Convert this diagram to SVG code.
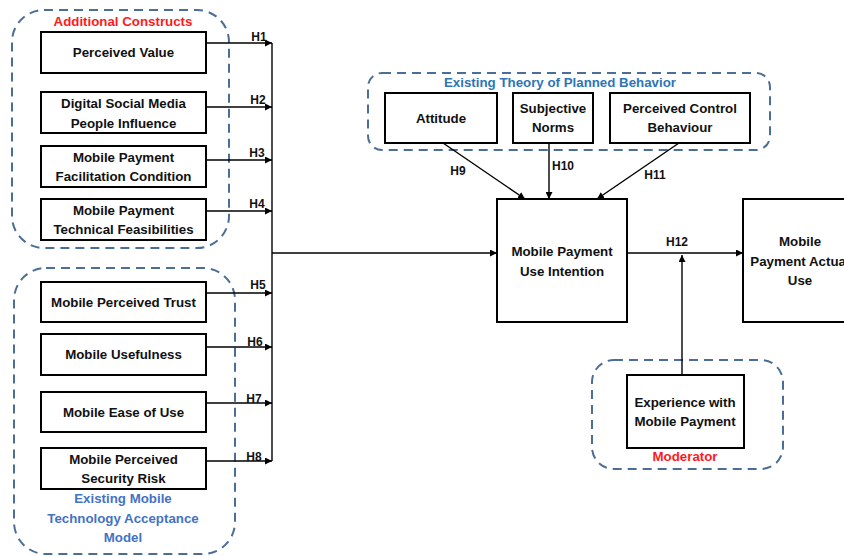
<svg xmlns="http://www.w3.org/2000/svg" width="844" height="556" viewBox="0 0 844 556">
<defs>
<marker id="ah" viewBox="0 0 10 10" refX="10" refY="5" markerWidth="7" markerHeight="7" markerUnits="userSpaceOnUse" orient="auto">
<path d="M0,0 L10,5 L0,10 z" fill="#000"/>
</marker>
</defs>
<style>
.box{fill:#fff;stroke:#000;stroke-width:2}
.grp{fill:none;stroke:#4A6E96;stroke-width:2;stroke-dasharray:9 6}
.t{font-family:"Liberation Sans",Arial,sans-serif;font-weight:bold;font-size:13.3px;fill:#111;text-anchor:middle}
.h{font-family:"Liberation Sans",Arial,sans-serif;font-weight:bold;font-size:12px;fill:#111;text-anchor:middle}
.red{font-family:"Liberation Sans",Arial,sans-serif;font-weight:bold;font-size:13.3px;fill:#FF1A1A;text-anchor:middle}
.blue{font-family:"Liberation Sans",Arial,sans-serif;font-weight:bold;font-size:13.3px;fill:#4472C4;text-anchor:middle}
.blue2{font-family:"Liberation Sans",Arial,sans-serif;font-weight:bold;font-size:13.3px;fill:#2E75B6;text-anchor:middle}
.c{fill:none;stroke:#000;stroke-width:1.4}
</style>
<rect width="844" height="556" fill="#fff"/>

<g id="group-additional">
<rect class="grp" x="12" y="10" width="217" height="238" rx="32"/>
<text class="red" x="123" y="26">Additional Constructs</text>
</g>
<g id="group-tam">
<rect class="grp" x="14" y="268" width="221" height="286" rx="32"/>
<text class="blue" x="123" y="503">Existing Mobile</text>
<text class="blue" x="123" y="523">Technology Acceptance</text>
<text class="blue" x="123" y="542">Model</text>
</g>
<g id="group-tpb">
<rect class="grp" x="368" y="73" width="402" height="77" rx="14"/>
<text class="blue2" x="560" y="87">Existing Theory of Planned Behavior</text>
</g>
<g id="group-moderator">
<rect class="grp" x="592" y="360" width="191" height="109" rx="22"/>
<text class="red" x="685" y="461">Moderator</text>
</g>

<g id="connectors">
<line class="c" x1="272" y1="43" x2="272" y2="461"/>
<line class="c" x1="206" y1="43" x2="272" y2="43" marker-end="url(#ah)"/>
<line class="c" x1="206" y1="107" x2="272" y2="107" marker-end="url(#ah)"/>
<line class="c" x1="206" y1="160" x2="272" y2="160" marker-end="url(#ah)"/>
<line class="c" x1="206" y1="211" x2="272" y2="211" marker-end="url(#ah)"/>
<line class="c" x1="206" y1="293" x2="272" y2="293" marker-end="url(#ah)"/>
<line class="c" x1="206" y1="347" x2="272" y2="347" marker-end="url(#ah)"/>
<line class="c" x1="206" y1="403" x2="272" y2="403" marker-end="url(#ah)"/>
<line class="c" x1="206" y1="461" x2="272" y2="461" marker-end="url(#ah)"/>
<line class="c" x1="272" y1="253" x2="497" y2="253" marker-end="url(#ah)"/>
<line class="c" x1="443" y1="143" x2="525" y2="199" marker-end="url(#ah)"/>
<line class="c" x1="549" y1="143" x2="549" y2="199" marker-end="url(#ah)"/>
<line class="c" x1="679" y1="143" x2="597" y2="199" marker-end="url(#ah)"/>
<line class="c" x1="627" y1="253" x2="743" y2="253" marker-end="url(#ah)"/>
<line class="c" x1="682" y1="375" x2="682" y2="255" marker-end="url(#ah)"/>
<text class="h" x="259" y="41">H1</text>
<text class="h" x="258" y="104">H2</text>
<text class="h" x="257" y="157">H3</text>
<text class="h" x="257" y="208">H4</text>
<text class="h" x="258" y="289">H5</text>
<text class="h" x="255" y="346">H6</text>
<text class="h" x="254" y="403">H7</text>
<text class="h" x="254" y="461">H8</text>
<text class="h" x="458" y="175">H9</text>
<text class="h" x="563" y="170">H10</text>
<text class="h" x="655" y="179">H11</text>
<text class="h" x="677" y="246">H12</text>
</g>

<g id="n-perceived-value"><rect class="box" x="41" y="32" width="165" height="41"/><text class="t" x="123.5" y="57">Perceived Value</text></g>
<g id="n-digital-social"><rect class="box" x="41" y="92" width="165" height="41"/><text class="t" x="123.5" y="108">Digital Social Media</text><text class="t" x="123.5" y="128">People Influence</text></g>
<g id="n-facilitation"><rect class="box" x="41" y="146" width="165" height="41"/><text class="t" x="123.5" y="162">Mobile Payment</text><text class="t" x="123.5" y="181">Facilitation Condition</text></g>
<g id="n-technical"><rect class="box" x="41" y="199" width="165" height="41"/><text class="t" x="123.5" y="215">Mobile Payment</text><text class="t" x="123.5" y="234">Technical Feasibilities</text></g>
<g id="n-trust"><rect class="box" x="41" y="282" width="165" height="40"/><text class="t" x="123.5" y="307">Mobile Perceived Trust</text></g>
<g id="n-usefulness"><rect class="box" x="41" y="334" width="165" height="41"/><text class="t" x="123.5" y="359">Mobile Usefulness</text></g>
<g id="n-ease"><rect class="box" x="41" y="392" width="165" height="40"/><text class="t" x="123.5" y="417">Mobile Ease of Use</text></g>
<g id="n-risk"><rect class="box" x="41" y="448" width="165" height="41"/><text class="t" x="123.5" y="464">Mobile Perceived</text><text class="t" x="123.5" y="483">Security Risk</text></g>

<g id="n-attitude"><rect class="box" x="385" y="93" width="112" height="50"/><text class="t" x="441" y="123">Attitude</text></g>
<g id="n-subjective"><rect class="box" x="513" y="93" width="80" height="50"/><text class="t" x="553" y="113">Subjective</text><text class="t" x="553" y="132">Norms</text></g>
<g id="n-pcb"><rect class="box" x="610" y="93" width="140" height="50"/><text class="t" x="680" y="113">Perceived Control</text><text class="t" x="680" y="132">Behaviour</text></g>

<g id="n-intention"><rect class="box" x="497" y="199" width="130" height="123"/><text class="t" x="562" y="256">Mobile Payment</text><text class="t" x="562" y="276">Use Intention</text></g>
<g id="n-actual"><rect class="box" x="743" y="199" width="120" height="123"/><text class="t" x="800" y="246">Mobile</text><text class="t" x="800" y="266">Payment Actual</text><text class="t" x="800" y="285">Use</text></g>
<g id="n-experience"><rect class="box" x="627" y="375" width="117" height="73"/><text class="t" x="685" y="407">Experience with</text><text class="t" x="685" y="426">Mobile Payment</text></g>
</svg>
